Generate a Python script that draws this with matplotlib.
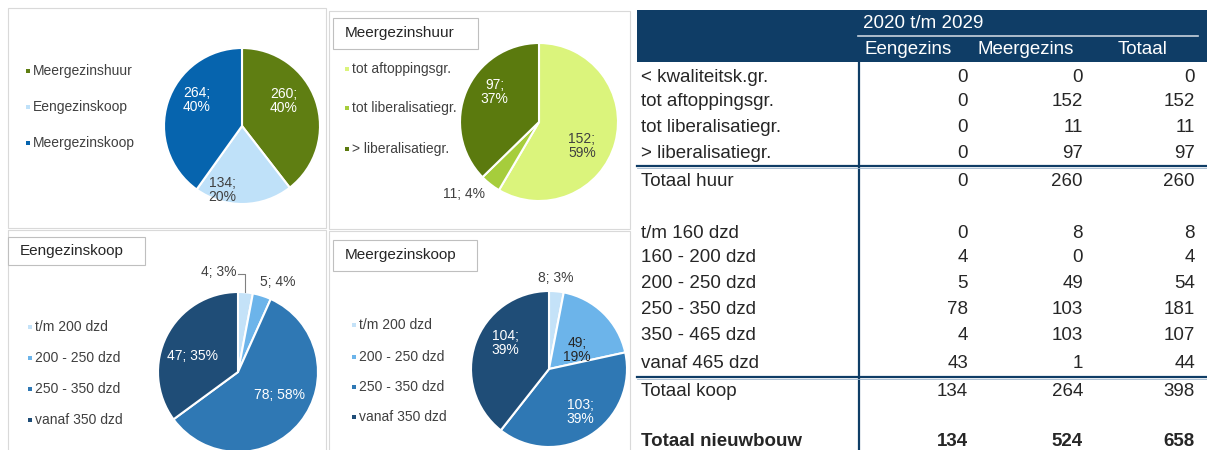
import numpy as np
import matplotlib
matplotlib.use("Agg")
import matplotlib.pyplot as plt
from matplotlib.patches import Rectangle

plt.rcParams['font.family'] = ['Liberation Sans', 'DejaVu Sans']

# ---- data ----
pie1_labels = ['Meergezinshuur', 'Eengezinskoop', 'Meergezinskoop']
pie1_values = [260, 134, 264]
pie1_pct = [40, 20, 40]

pie2_title = 'Meergezinshuur'
pie2_labels = ['tot aftoppingsgr.', 'tot liberalisatiegr.', '> liberalisatiegr.']
pie2_values = [152, 11, 97]
pie2_pct = [59, 4, 37]

koop_labels = ['t/m 200 dzd', '200 - 250 dzd', '250 - 350 dzd', 'vanaf 350 dzd']
pie3_title = 'Eengezinskoop'
pie3_values = [4, 5, 78, 47]
pie3_pct = [3, 4, 58, 35]
pie4_title = 'Meergezinskoop'
pie4_values = [8, 49, 103, 104]
pie4_pct = [3, 19, 39, 39]

table_title = '2020 t/m 2029'
table_cols = ['Eengezins', 'Meergezins', 'Totaal']
table_rows = ['< kwaliteitsk.gr.', 'tot aftoppingsgr.', 'tot liberalisatiegr.', '> liberalisatiegr.',
              'Totaal huur', '', 't/m 160 dzd', '160 - 200 dzd', '200 - 250 dzd', '250 - 350 dzd',
              '350 - 465 dzd', 'vanaf 465 dzd', 'Totaal koop', '', 'Totaal nieuwbouw']
eengezins = [0, 0, 0, 0, 0, None, 0, 4, 5, 78, 4, 43, 134, None, 134]
meergezins = [0, 152, 11, 97, 260, None, 8, 0, 49, 103, 103, 1, 264, None, 524]
totaal = [0, 152, 11, 97, 260, None, 8, 4, 54, 181, 107, 44, 398, None, 658]

# ---- styles / layout (pixels) ----
W, H = 1207, 450
huur_colors = ['#5f7e12', '#bfe1f9', '#0664ae']
mh_colors = ['#dbf47c', '#a6cd3c', '#5b7a0e']
koop_colors = ['#c4e2f8', '#6cb4ea', '#2f78b4', '#1f4d77']
navy = '#0f3d66'
txt = '#262626'
grey_txt = '#404040'

fig = plt.figure(figsize=(W / 100, H / 100), dpi=100)
bg = fig.add_axes([0, 0, 1, 1])
bg.set_xlim(0, W)
bg.set_ylim(H, 0)
bg.axis('off')

# panel frames
for x0, y0, x1, y1 in [(8, 8, 326, 228), (329, 11, 630, 229), (8, 230, 326, 455), (329, 231, 630, 455)]:
    bg.add_patch(Rectangle((x0, y0), x1 - x0, y1 - y0, fill=False, ec='#d9d9d9', lw=0.8))


def pie_axes(cx, cy, r):
    ax = fig.add_axes([(cx - r) / W, 1 - (cy + r) / H, 2 * r / W, 2 * r / H])
    ax.axis('off')
    return ax


def draw_pie(ax, values, pct, colors, label_pos, label_colors, one_line):
    wedges, _ = ax.pie(values, colors=colors, startangle=90, counterclock=False, radius=1,
                       wedgeprops=dict(edgecolor='white', linewidth=1.5))
    ax.set_xlim(-1, 1)
    ax.set_ylim(-1, 1)
    for i, (v, p) in enumerate(zip(values, pct)):
        r, ang = label_pos[i]
        a = np.deg2rad(ang)
        sep = ' ' if one_line[i] else '\n'
        ax.text(r * np.cos(a), r * np.sin(a), f'{v};{sep}{p}%', ha='center', va='center',
                fontsize=10, color=label_colors[i], linespacing=1.0)
    return wedges


def legend(x, ys, labels, colors):
    for y, lab, c in zip(ys, labels, colors):
        bg.add_patch(Rectangle((x - 2, y - 2), 4, 4, color=c, lw=0))
        bg.text(x + 5, y, lab, ha='left', va='center', fontsize=10, color=grey_txt)


def title_box(x0, y0, x1, y1, label):
    bg.add_patch(Rectangle((x0, y0), x1 - x0, y1 - y0, fill=True, fc='white', ec='#bfbfbf', lw=0.8))
    bg.text(x0 + 12, (y0 + y1) / 2, label, ha='left', va='center', fontsize=11, color=txt)


# pie 1
ax1 = pie_axes(242, 126, 78)
draw_pie(ax1, pie1_values, pie1_pct, huur_colors,
         [(0.62, 31), (0.86, -107), (0.67, 150)], ['white', grey_txt, 'white'], [False] * 3)
legend(28, [71, 107, 143], pie1_labels, huur_colors)

# pie 2
title_box(333, 18, 478, 49, pie2_title)
ax2 = pie_axes(539, 122, 79)
draw_pie(ax2, pie2_values, pie2_pct, mh_colors,
         [(0.62, -29), (1.32, -136), (0.68, 146)], [grey_txt, grey_txt, 'white'], [False, True, False])
legend(347, [69, 108, 149], pie2_labels, mh_colors)

# pie 3
title_box(8, 237, 145, 265, pie3_title)
ax3 = pie_axes(238, 372, 80)
w3 = draw_pie(ax3, pie3_values, pie3_pct, koop_colors,
              [(1.27, 101), (1.23, 66), (0.6, -29), (0.6, 160)],
              [grey_txt, grey_txt, 'white', 'white'], [True] * 4)
mid = np.deg2rad((w3[0].theta1 + w3[0].theta2) / 2)
ex, ey = np.cos(mid), np.sin(mid)
ax3.plot([0.0, ex, ex], [1.225, 1.225, ey], color='#808080', lw=0.8, clip_on=False)
legend(30, [327, 358, 389, 420], koop_labels, koop_colors)

# pie 4
title_box(333, 240, 477, 271, pie4_title)
ax4 = pie_axes(549, 369, 78)
draw_pie(ax4, pie4_values, pie4_pct, koop_colors,
         [(1.17, 86), (0.43, 34), (0.68, -54), (0.65, 149)],
         [grey_txt, txt, 'white', 'white'], [True, False, False, False])
legend(354, [325, 357, 387, 417], koop_labels, koop_colors)

# ---- table ----
row_y = [77, 102, 127, 153, 182, None, 233, 258, 283, 310, 336, 364, 391, None, 442]
col_right = [968, 1083, 1195]
col_center = [908, 1026, 1143]
fs = 13.5

bg.add_patch(Rectangle((637, 10), W - 637, 52, color=navy, lw=0))
bg.text(863, 24, table_title, ha='left', va='center', fontsize=fs, color='white')
bg.plot([858, 1198], [36, 36], color='#c8d3de', lw=1.2)
for cx, name in zip(col_center, table_cols):
    bg.text(cx, 50, name, ha='center', va='center', fontsize=fs, color='white')

bg.plot([859, 859], [62, 452], color=navy, lw=1.6)
for yl in [166, 377]:
    bg.plot([637, W], [yl, yl], color=navy, lw=1.6)
    bg.plot([637, W], [yl + 1.8, yl + 1.8], color='#9fb6cc', lw=0.6)

for i, lab in enumerate(table_rows):
    y = row_y[i]
    if y is None:
        continue
    weight = 'bold' if lab == 'Totaal nieuwbouw' else 'normal'
    bg.text(641, y, lab, ha='left', va='center', fontsize=fs, color=txt, fontweight=weight)
    for xr, col in zip(col_right, [eengezins, meergezins, totaal]):
        bg.text(xr, y, str(col[i]), ha='right', va='center', fontsize=fs, color=txt, fontweight=weight)

fig.savefig('out.png', dpi=100)
